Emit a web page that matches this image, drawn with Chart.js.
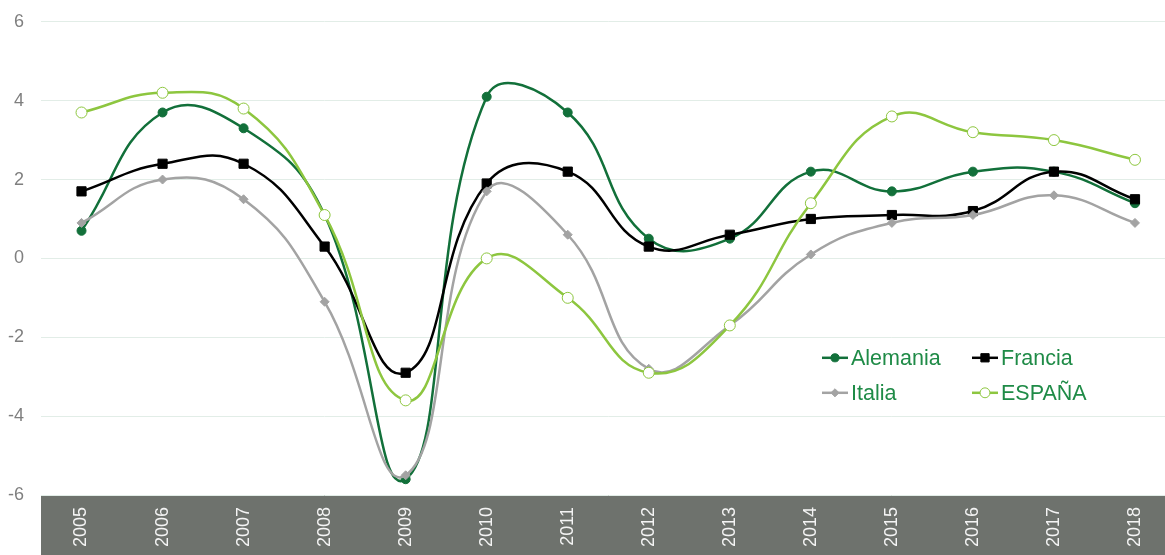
<!DOCTYPE html>
<html>
<head>
<meta charset="utf-8">
<title>Crecimiento del PIB</title>
<script src="https://cdn.jsdelivr.net/npm/chart.js@4/dist/chart.umd.min.js"></script>
<style>
  html, body { margin: 0; padding: 0; background: #ffffff; overflow: hidden; }
  #wrap { position: relative; width: 1165px; height: 555px; overflow: hidden; }
  #c { position: absolute; left: 0; top: -6px; }
</style>
</head>
<body>
<div id="wrap"><canvas id="c" width="1183" height="561" style="width:1183px;height:561px"></canvas></div>
<script>
// Years on the horizontal axis
const years = ['2005', '2006', '2007', '2008', '2009', '2010', '2011',
               '2012', '2013', '2014', '2015', '2016', '2017', '2018'];

// Annual GDP growth (%) per country
const alemania = [0.7, 3.7, 3.3, 1.1, -5.6, 4.1, 3.7, 0.5, 0.5, 2.2, 1.7, 2.2, 2.2, 1.4];
const francia  = [1.7, 2.4, 2.4, 0.3, -2.9, 1.9, 2.2, 0.3, 0.6, 1.0, 1.1, 1.2, 2.2, 1.5];
const italia   = [0.9, 2.0, 1.5, -1.1, -5.5, 1.7, 0.6, -2.8, -1.7, 0.1, 0.9, 1.1, 1.6, 0.9];
const espana   = [3.7, 4.2, 3.8, 1.1, -3.6, 0.0, -1.0, -2.9, -1.7, 1.4, 3.6, 3.2, 3.0, 2.5];

// Value axis ticks
const yTicks = [-6, -4, -2, 0, 2, 4, 6];

const C_ALEMANIA = '#12703a';
const C_FRANCIA = '#000000';
const C_ITALIA = '#a3a3a3';
const C_ESPANA = '#8dc63f';
const LEGEND_TEXT = '#1f8b47';
const FONT = '"Liberation Sans", Arial, sans-serif';

function series(label, data, color, style, radius, fill, order) {
  return {
    label: label,
    data: data,
    borderColor: color,
    backgroundColor: fill,
    borderWidth: 2.5,
    pointStyle: style,
    pointRadius: radius,
    pointHoverRadius: radius,
    pointBackgroundColor: fill,
    pointBorderColor: color,
    pointBorderWidth: 1,
    tension: 0.45,
    fill: false,
    order: order
  };
}

// Dark band behind the year labels
const axisBand = {
  id: 'axisBand',
  beforeDraw(chart) {
    const { ctx, chartArea } = chart;
    ctx.save();
    ctx.fillStyle = '#6e726d';
    ctx.fillRect(chartArea.left, chartArea.bottom, chartArea.right - chartArea.left, chart.height - chartArea.bottom);
    ctx.restore();
  }
};

// Two-column legend placed inside the plot, lower right
const innerLegend = {
  id: 'innerLegend',
  afterDraw(chart) {
    const { ctx, chartArea } = chart;
    const cols = [822, 972];
    const rows = [chartArea.top + 336, chartArea.top + 371];
    ctx.save();
    ctx.font = '21.5px ' + FONT;
    ctx.textBaseline = 'middle';
    ctx.textAlign = 'left';
    chart.data.datasets.forEach((ds, i) => {
      const x = cols[i % 2];
      const y = rows[Math.floor(i / 2)];
      ctx.strokeStyle = ds.borderColor;
      ctx.lineWidth = 2.5;
      ctx.beginPath();
      ctx.moveTo(x, y);
      ctx.lineTo(x + 26, y);
      ctx.stroke();
      ctx.fillStyle = ds.pointBackgroundColor;
      ctx.lineWidth = 1;
      Chart.helpers.drawPoint(ctx, {
        pointStyle: ds.pointStyle,
        rotation: 0,
        radius: ds.pointRadius * 0.9,
        borderWidth: 1
      }, x + 13, y);
      ctx.fillStyle = LEGEND_TEXT;
      ctx.fillText(ds.label, x + 29, y + 1);
    });
    ctx.restore();
  }
};

new Chart(document.getElementById('c'), {
  type: 'line',
  data: {
    labels: years,
    datasets: [
      series('Alemania', alemania, C_ALEMANIA, 'circle', 4.5, C_ALEMANIA, 4),
      series('Francia', francia, C_FRANCIA, 'rect', 6.5, C_FRANCIA, 3),
      series('Italia', italia, C_ITALIA, 'rectRot', 4.5, C_ITALIA, 2),
      series('ESPAÑA', espana, C_ESPANA, 'circle', 5.5, '#ffffff', 1)
    ]
  },
  options: {
    responsive: false,
    animation: false,
    devicePixelRatio: 1,
    layout: { padding: { top: 15, right: 0, bottom: 0, left: 0 } },
    plugins: {
      legend: { display: false },
      tooltip: { enabled: false }
    },
    elements: { line: { capBezierPoints: false } },
    scales: {
      x: {
        offset: true,
        grid: { display: false, drawTicks: false },
        border: { display: false },
        ticks: {
          color: '#f4f4f4',
          font: { family: FONT, size: 18 },
          minRotation: 90,
          maxRotation: 90,
          padding: 12,
          autoSkip: false
        },
        afterFit(scale) { scale.height = 60; }
      },
      y: {
        min: -6,
        max: 6,
        afterBuildTicks(scale) { scale.ticks = yTicks.map(v => ({ value: v })); },
        grid: { color: '#e2ede7', lineWidth: 1, drawTicks: false },
        border: { display: false },
        ticks: {
          color: '#7f7f7f',
          font: { family: FONT, size: 18 },
          padding: 17
        },
        afterFit(scale) { scale.width = 41; }
      }
    }
  },
  plugins: [axisBand, innerLegend]
});
</script>
</body>
</html>
